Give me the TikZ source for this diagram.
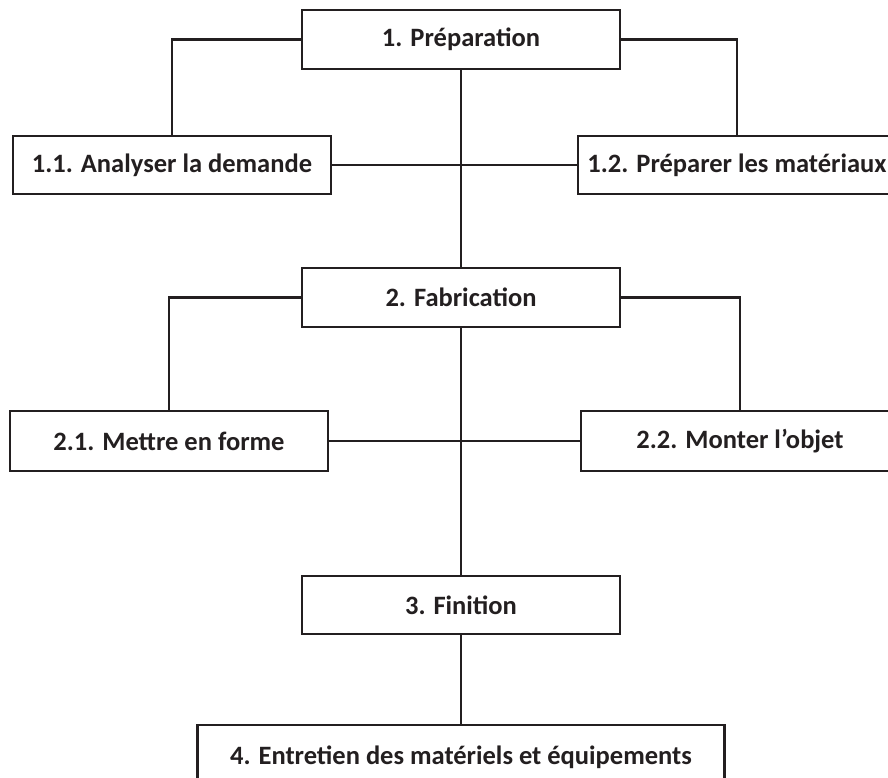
\documentclass[tikz,border=0pt]{standalone}
\usepackage{fontspec}
\setmainfont{Carlito}
\usepackage{tikz}

\definecolor{inkgray}{HTML}{231F20}

\begin{document}
\begin{tikzpicture}[
      x=1pt, y=-1pt,
      box/.style={draw=inkgray, line width=2.6pt, fill=white, inner sep=0pt,
                  minimum width=318pt, minimum height=58pt,
                  font=\fontsize{26.5}{30}\selectfont\bfseries, text=inkgray},
      link/.style={draw=inkgray, line width=2.2pt}
    ]

    \useasboundingbox (0,0) rectangle (888,777);

    % ---- columns ----
    \def\xl{172}
    \def\xm{461}
    \def\xr{737}

    % ================= LEVEL 1: preparation =================
    \node[box, minimum height=59pt] (prep) at (\xm,39.5) {1. Préparation};
    \node[box] (analyse) at (\xl,165) {1.1. Analyser la demande};
    \node[box] (materiaux) at (\xr,165) {1.2. Préparer les matériaux};

    % ================= LEVEL 2: fabrication =================
    \node[box, minimum height=59pt] (fab) at (\xm,297.5) {2. Fabrication};
    \node[box, minimum height=60pt] (forme) at (169,441) {2.1. Mettre en forme};
    \node[box, minimum height=60pt] (objet) at (740,441) {2.2. Monter l’objet};

    % ================= LEVEL 3 and 4 =================
    \node[box] (finition) at (\xm,605) {3. Finition};
    \node[box, minimum width=527pt, minimum height=64pt] (entretien) at (\xm,757)
      {4. Entretien des matériels et équipements};

    % ---- connectors ----
    \draw[link] (prep.west) -| (analyse.north);
    \draw[link] (prep.east) -| (materiaux.north);
    \draw[link] (analyse.east) -- (materiaux.west);
    \draw[link] (prep.south) -- (fab.north);

    \draw[link] (fab.west) -| (forme.north);
    \draw[link] (fab.east) -| (objet.north);
    \draw[link] (forme.east) -- (objet.west);
    \draw[link] (fab.south) -- (finition.north);

    \draw[link] (finition.south) -- (entretien.north);

    \end{tikzpicture}
\end{document}
